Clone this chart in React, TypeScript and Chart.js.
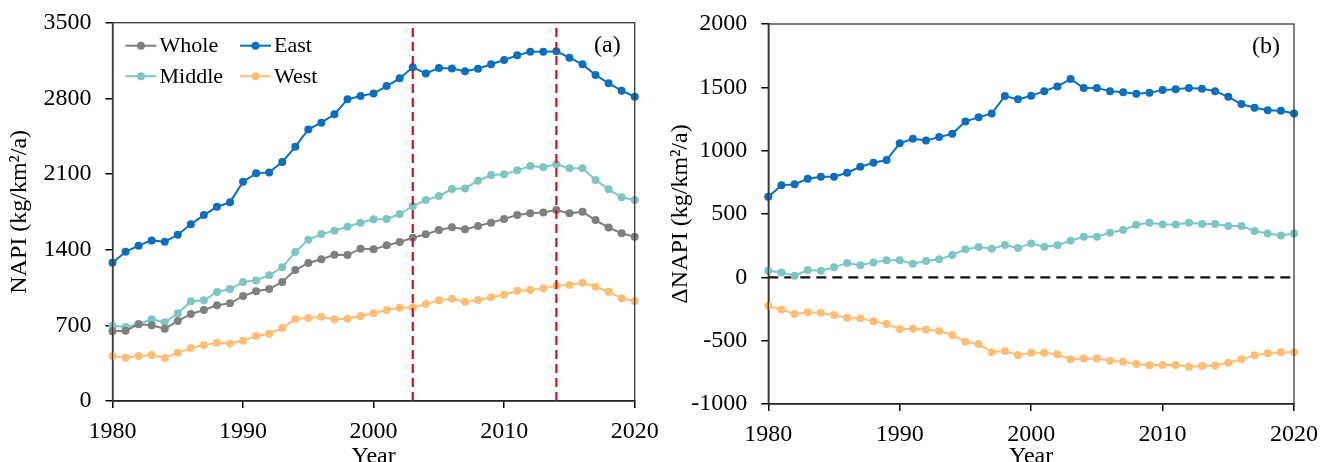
import React, { useEffect, useRef } from "react";
import { Chart, registerables } from "chart.js";

Chart.register(...registerables);

// ---------- data ----------
const years = [
  1980, 1981, 1982, 1983, 1984, 1985, 1986, 1987, 1988, 1989,
  1990, 1991, 1992, 1993, 1994, 1995, 1996, 1997, 1998, 1999,
  2000, 2001, 2002, 2003, 2004, 2005, 2006, 2007, 2008, 2009,
  2010, 2011, 2012, 2013, 2014, 2015, 2016, 2017, 2018, 2019,
  2020,
];

const seriesLabels = ["Whole", "East", "Middle", "West"];

// Panel (a): NAPI (kg/km²/a)
const napiWhole = [
  645, 650, 709, 700, 669, 740, 805, 842, 885, 904,
  971, 1015, 1036, 1101, 1212, 1277, 1311, 1352, 1350, 1409,
  1403, 1440, 1471, 1511, 1542, 1582, 1607, 1588, 1619, 1650,
  1685, 1721, 1736, 1745, 1767, 1736, 1750, 1674, 1605, 1551,
  1520,
];
const napiEast = [
  1280, 1381, 1437, 1486, 1474, 1538, 1635, 1720, 1797, 1838,
  2029, 2106, 2115, 2211, 2352, 2513, 2575, 2653, 2791, 2821,
  2846, 2914, 2985, 3087, 3031, 3080, 3077, 3050, 3074, 3115,
  3155, 3198, 3231, 3231, 3235, 3176, 3115, 3016, 2939, 2871,
  2815,
];
const napiMiddle = [
  697, 685, 712, 756, 728, 811, 922, 931, 1008, 1036,
  1101, 1116, 1163, 1237, 1378, 1492, 1545, 1575, 1612, 1649,
  1681, 1684, 1730, 1804, 1859, 1896, 1961, 1967, 2038, 2091,
  2097, 2134, 2174, 2162, 2190, 2153, 2153, 2044, 1958, 1884,
  1859,
];
const napiWest = [
  416, 401, 416, 425, 398, 447, 490, 518, 539, 533,
  558, 601, 623, 675, 758, 768, 780, 757, 761, 786,
  811, 842, 863, 866, 897, 931, 946, 918, 934, 959,
  983, 1020, 1027, 1042, 1067, 1073, 1094, 1057, 1011, 950,
  925,
];

// Panel (b): ΔNAPI (kg/km²/a)
const deltaEast = [
  636, 726, 734, 778, 794, 794, 826, 873, 905, 926,
  1058, 1094, 1081, 1107, 1133, 1231, 1263, 1294, 1431, 1405,
  1433, 1470, 1507, 1565, 1494, 1494, 1470, 1462, 1449, 1457,
  1478, 1484, 1494, 1489, 1470, 1425, 1368, 1339, 1320, 1315,
  1294,
];
const deltaMiddle = [
  52, 39, 13, 58, 52, 79, 113, 95, 118, 134,
  134, 107, 129, 142, 176, 221, 239, 226, 255, 231,
  268, 242, 253, 289, 320, 320, 352, 373, 415, 431,
  418, 418, 431, 421, 421, 405, 405, 365, 347, 331,
  347,
];
const deltaWest = [
  -226, -253, -290, -276, -282, -297, -319, -324, -347, -369,
  -408, -405, -411, -424, -455, -508, -526, -591, -582, -613,
  -595, -595, -608, -647, -640, -640, -658, -666, -684, -695,
  -692, -692, -705, -700, -697, -674, -647, -616, -600, -592,
  -592,
];

const breakYears = [2003, 2014];
const yRangeA = [0, 3500];
const yStepA = 700;
const yRangeB = [-1000, 2000];
const yStepB = 500;
const xRange = [1980, 2020];
const xStep = 10;

// ---------- styles ----------
const FONT_FAMILY = "'Liberation Serif', 'Times New Roman', serif";
const COLORS = {
  Whole: "#7f7f7f",
  East: "#0a6fc0",
  Middle: "#7ec6c6",
  West: "#ffbe74",
};

const toPoints = (vals: number[]) => years.map((yr, i) => ({ x: yr, y: vals[i] }));

function seriesDataset(label: string, vals: number[]) {
  const c = (COLORS as any)[label];
  return {
    label,
    data: toPoints(vals),
    borderColor: c,
    backgroundColor: c,
    borderWidth: 2,
    pointRadius: 4,
    pointBorderWidth: 0,
    pointBackgroundColor: c,
    tension: 0,
    clip: false as any,
    order: 1,
  };
}

const decorPlugin = {
  id: "decor",
  afterDatasetsDraw(chart: any, _args: any, opts: any) {
    const { ctx, chartArea: a } = chart;
    ctx.save();
    ctx.strokeStyle = "#3a3a3a";
    ctx.lineWidth = 1.3;
    ctx.strokeRect(a.left, a.top, a.right - a.left, a.bottom - a.top);

    ctx.fillStyle = "#000";
    ctx.font = `24px ${FONT_FAMILY}`;
    ctx.textAlign = "right";
    ctx.textBaseline = "middle";
    ctx.fillText(opts.tag, a.right - 14, a.top + 23);

    if (opts.legend) {
      const items: string[] = opts.legend;
      ctx.font = `22px ${FONT_FAMILY}`;
      ctx.textAlign = "left";
      items.forEach((lab, i) => {
        const col = i % 2;
        const row = Math.floor(i / 2);
        const x0 = a.left + 13 + col * 114.5;
        const y0 = a.top + 23 + row * 30.5;
        const c = (COLORS as any)[lab];
        ctx.strokeStyle = c;
        ctx.fillStyle = c;
        ctx.lineWidth = 2;
        ctx.beginPath();
        ctx.moveTo(x0, y0);
        ctx.lineTo(x0 + 31, y0);
        ctx.stroke();
        ctx.beginPath();
        ctx.arc(x0 + 15.5, y0, 4, 0, Math.PI * 2);
        ctx.fill();
        ctx.fillStyle = "#000";
        ctx.fillText(lab, x0 + 34, y0 + 1);
      });
    }
    ctx.restore();
  },
};

function baseScales(opts: {
  yMin: number;
  yMax: number;
  yStep: number;
  yTitle: string;
  yWidth: number;
  xHeight: number;
}) {
  const font = { family: FONT_FAMILY, size: 24 };
  const grid = {
    drawOnChartArea: false,
    drawTicks: true,
    tickLength: 7,
    color: "#000",
    lineWidth: 1.5,
  };
  const border = { display: true, color: "#000", width: 1.5 };
  return {
    x: {
      type: "linear",
      min: xRange[0],
      max: xRange[1],
      ticks: {
        stepSize: xStep,
        padding: 9,
        font,
        color: "#000",
        maxRotation: 0,
        callback: (v: any) => String(v),
      },
      grid,
      border,
      title: {
        display: true,
        text: "Year",
        font,
        color: "#000",
        padding: { top: 0, bottom: -9 },
      },
      afterFit: (s: any) => {
        s.height = opts.xHeight;
        s.paddingLeft = 0;
        s.paddingRight = 0;
        s.paddingTop = 0;
        s.paddingBottom = 0;
      },
    },
    y: {
      type: "linear",
      min: opts.yMin,
      max: opts.yMax,
      ticks: {
        stepSize: opts.yStep,
        padding: 14,
        font,
        color: "#000",
        callback: (v: any) => String(v),
      },
      grid,
      border,
      title: {
        display: true,
        text: opts.yTitle,
        font,
        color: "#000",
        padding: { top: 5, bottom: 0 },
      },
      afterFit: (s: any) => {
        s.width = opts.yWidth;
        s.paddingLeft = 0;
        s.paddingRight = 0;
        s.paddingTop = 0;
        s.paddingBottom = 0;
      },
    },
  };
}

function PanelA() {
  const ref = useRef<HTMLCanvasElement | null>(null);
  useEffect(() => {
    if (!ref.current) return;
    const breakSets = breakYears.map((yr) => ({
      label: `break-${yr}`,
      data: [
        { x: yr, y: yRangeA[0] },
        { x: yr, y: yRangeA[1] },
      ],
      borderColor: "#d0121b",
      borderWidth: 2.2,
      borderDash: [9, 5],
      pointRadius: 0,
      order: 0,
    }));
    const chart = new Chart(ref.current, {
      type: "line",
      data: {
        datasets: [
          seriesDataset("Whole", napiWhole),
          seriesDataset("East", napiEast),
          seriesDataset("Middle", napiMiddle),
          seriesDataset("West", napiWest),
          ...breakSets,
        ] as any,
      },
      options: {
        responsive: false,
        animation: false,
        layout: { autoPadding: false, padding: { left: 0, top: 22.7, right: 26.3, bottom: 0 } },
        plugins: {
          legend: { display: false },
          tooltip: { enabled: false },
          decor: { tag: "(a)", legend: seriesLabels },
        } as any,
        scales: baseScales({
          yMin: yRangeA[0],
          yMax: yRangeA[1],
          yStep: yStepA,
          yTitle: "NAPI (kg/km²/a)",
          yWidth: 112.5,
          xHeight: 61,
        }) as any,
      },
      plugins: [decorPlugin],
    });
    return () => chart.destroy();
  }, []);
  return <canvas ref={ref} width={661} height={462} style={{ width: 661, height: 462, display: "block" }} />;
}

function PanelB() {
  const ref = useRef<HTMLCanvasElement | null>(null);
  useEffect(() => {
    if (!ref.current) return;
    const chart = new Chart(ref.current, {
      type: "line",
      data: {
        datasets: [
          {
            label: "zero",
            data: [
              { x: xRange[0], y: 0 },
              { x: xRange[1], y: 0 },
            ],
            borderColor: "#111",
            borderWidth: 2.2,
            borderDash: [10, 6],
            pointRadius: 0,
            order: 2,
          },
          seriesDataset("East", deltaEast),
          seriesDataset("Middle", deltaMiddle),
          seriesDataset("West", deltaWest),
        ] as any,
      },
      options: {
        responsive: false,
        animation: false,
        layout: { autoPadding: false, padding: { left: 0, top: 24, right: 28, bottom: 0 } },
        plugins: {
          legend: { display: false },
          tooltip: { enabled: false },
          decor: { tag: "(b)", legend: null },
        } as any,
        scales: baseScales({
          yMin: yRangeB[0],
          yMax: yRangeB[1],
          yStep: yStepB,
          yTitle: "ΔNAPI (kg/km²/a)",
          yWidth: 107.3,
          xHeight: 58,
        }) as any,
      },
      plugins: [decorPlugin],
    });
    return () => chart.destroy();
  }, []);
  return <canvas ref={ref} width={661} height={462} style={{ width: 661, height: 462, display: "block" }} />;
}

export default function App() {
  return (
    <div
      style={{
        position: "absolute",
        left: 0,
        top: 0,
        width: 1322,
        height: 462,
        background: "#fff",
        display: "flex",
        overflow: "hidden",
      }}
    >
      <PanelA />
      <PanelB />
    </div>
  );
}
